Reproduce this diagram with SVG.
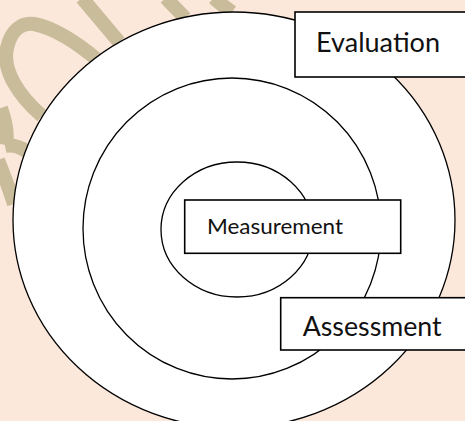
<svg xmlns="http://www.w3.org/2000/svg" width="465" height="421" viewBox="0 0 465 421">
  <style>
    .ring { fill: #FFFFFF; stroke: #000000; stroke-width: 1.3; }
    .box { fill: #FFFFFF; stroke: #000000; stroke-width: 1.6; }
    .lbl { font-family: "Lato", "Liberation Sans", sans-serif; fill: #111111; }
    .wm { fill: none; stroke: #C8BC9A; stroke-width: 14; stroke-linecap: butt; }
  </style>
  <rect x="0" y="0" width="465" height="421" fill="#FCE8DA"/>
  <g id="watermark">
    <path class="wm" d="M 42 116 C 18 95, 2 70, 7 48 C 11 30, 22 22, 34 24 C 55 28, 80 45, 100 62"/>
    <path class="wm" d="M 1 108 C 6 122, 8 134, 6 145"/>
    <path class="wm" d="M 5 146 C 14 144, 24 148, 32 156"/>
    <path class="wm" d="M -2 160 C 4 175, 9 188, 14 204"/>
    <path class="wm" d="M 82 -2 L 119 42"/>
    <path class="wm" d="M 166 -2 C 172 5, 178 10, 185 18"/>
    <path class="wm" d="M 214 -2 C 219 3, 225 7, 232 12"/>
  </g>
  <g id="evaluation-ring">
    <ellipse class="ring" cx="234" cy="220" rx="221" ry="208"/>
  </g>
  <g id="assessment-ring">
    <ellipse class="ring" cx="232" cy="228.5" rx="149" ry="150.5"/>
  </g>
  <g id="measurement-ring">
    <ellipse class="ring" cx="237" cy="229.5" rx="76" ry="67.5"/>
  </g>
  <g id="connectors"></g>
  <g id="evaluation">
    <rect class="box" x="295" y="12" width="185" height="65"/>
    <text class="lbl" x="316" y="52" font-size="26" textLength="124" lengthAdjust="spacingAndGlyphs">Evaluation</text>
  </g>
  <g id="measurement">
    <rect class="box" x="184.7" y="200" width="216" height="53.3"/>
    <text class="lbl" x="207" y="234" font-size="21" textLength="136" lengthAdjust="spacingAndGlyphs">Measurement</text>
  </g>
  <g id="assessment">
    <rect class="box" x="280.7" y="297.7" width="200" height="52.3"/>
    <text class="lbl" x="302.7" y="335.7" font-size="26" textLength="139" lengthAdjust="spacingAndGlyphs">Assessment</text>
  </g>
</svg>
